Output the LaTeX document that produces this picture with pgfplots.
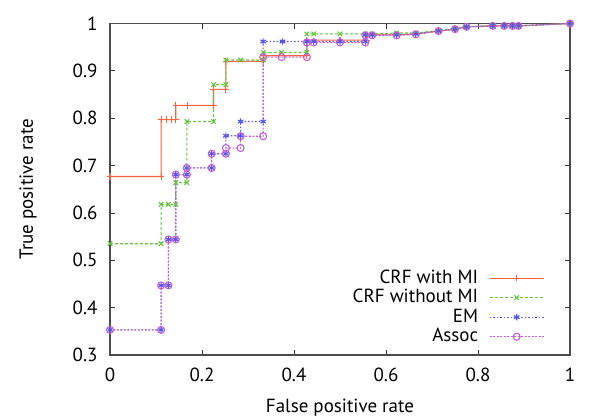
\documentclass[border=0pt]{standalone}
\usepackage{fontspec}
\setmainfont{PT Sans}
\usepackage{pgfplots}
\pgfplotsset{compat=1.18}
\usetikzlibrary{calc}
\definecolor{crfmi}{RGB}{245,100,65}
\definecolor{crfno}{RGB}{100,195,60}
\definecolor{em}{RGB}{85,85,230}
\definecolor{assoc}{RGB}{190,95,210}
\begin{document}
\fontsize{19bp}{22bp}\selectfont
\begin{tikzpicture}
\begin{axis}[
  scale only axis, width=460bp, height=331.5bp,
  xmin=0, xmax=1, ymin=0.3, ymax=1,
  xtick={0,0.2,0.4,0.6,0.8,1}, xticklabels={0,0.2,0.4,0.6,0.8,1},
  ytick={0.3,0.4,0.5,0.6,0.7,0.8,0.9,1}, yticklabels={0.3,0.4,0.5,0.6,0.7,0.8,0.9,1},
  tick align=inside, major tick length=5bp,
  tick style={black!80, line width=0.8bp},
  axis line style={black!70, line width=1.3bp},
  yticklabel style={xshift=-6bp},
  xticklabel style={yshift=-6bp},
  xlabel={False positive rate}, ylabel={True positive rate},
  every axis x label/.style={at={(axis description cs:0.5,-0.16)}, anchor=center},
  every axis y label/.style={at={(axis description cs:-0.178,0.5)}, anchor=center, rotate=90},
  legend plot pos=right, legend cell align=right,
  legend style={at={(axis description cs:0.951,0.02)}, anchor=south east, draw=none, fill=none,
    row sep=0.5bp, column sep=10bp, nodes={inner sep=1bp, text height=13.5bp, text depth=3.5bp}},
  legend image code/.code={\draw[mark repeat=2,mark phase=2,#1] plot coordinates {(0bp,0bp) (27bp,0bp) (54bp,0bp)};},
]
\addplot[color=crfmi, line width=1.1bp, mark=+, mark size=3.2bp, mark options={solid}] coordinates {
(0,0.677) (0.111,0.677) (0.111,0.797) (0.123,0.797) (0.133,0.797) (0.143,0.797)
(0.143,0.827) (0.168,0.827) (0.225,0.827) (0.225,0.861) (0.252,0.861) (0.252,0.920)
(0.333,0.920) (0.333,0.932) (0.428,0.932) (0.428,0.965) (0.5,0.965) (0.558,0.965)
(0.558,0.976) (0.57,0.976) (0.623,0.976) (0.665,0.978) (0.714,0.984) (0.75,0.988)
(0.775,0.993) (0.832,0.995) (0.857,0.995) (0.875,0.995) (0.888,0.995) (1,1)};
\addlegendentry{CRF with MI}
\addplot[color=crfno, line width=1.1bp, dash pattern=on 3bp off 2bp, mark=x, mark size=3.2bp, mark options={solid}] coordinates {
(0,0.535) (0.111,0.535) (0.111,0.618) (0.127,0.618) (0.143,0.618) (0.143,0.664)
(0.167,0.664) (0.167,0.793) (0.225,0.793) (0.225,0.871) (0.252,0.871) (0.252,0.923)
(0.284,0.923) (0.333,0.923) (0.333,0.939) (0.373,0.939) (0.428,0.939) (0.428,0.978)
(0.443,0.978) (0.5,0.978) (0.556,0.978) (0.57,0.978) (0.623,0.980) (0.665,0.980)
(0.714,0.985) (0.75,0.990) (0.775,0.993) (0.832,0.995) (0.857,0.995) (0.875,0.995)
(0.888,0.995) (1,1)};
\addlegendentry{CRF without MI}
\addplot[color=em, line width=1.1bp, dash pattern=on 1.5bp off 2bp, mark=asterisk, mark size=3.2bp, mark options={solid}] coordinates {
(0,0.353) (0.111,0.353) (0.111,0.447) (0.127,0.447) (0.127,0.544) (0.143,0.544)
(0.143,0.681) (0.167,0.681) (0.167,0.695) (0.221,0.695) (0.221,0.725) (0.252,0.725)
(0.252,0.763) (0.284,0.763) (0.284,0.793) (0.333,0.793) (0.333,0.962) (0.375,0.962)
(0.428,0.962) (0.443,0.962) (0.5,0.962) (0.555,0.962) (0.555,0.976) (0.57,0.976)
(0.623,0.976) (0.665,0.978) (0.714,0.984) (0.75,0.988) (0.775,0.993) (0.832,0.995)
(0.857,0.995) (0.875,0.995) (0.888,0.995) (1,1)};
\addlegendentry{EM}
\addplot[color=assoc, line width=1.1bp, dash pattern=on 2bp off 1.5bp, mark=o, mark size=3.5bp, mark options={solid}] coordinates {
(0,0.353) (0.111,0.353) (0.111,0.447) (0.127,0.447) (0.127,0.544) (0.143,0.544)
(0.143,0.681) (0.167,0.681) (0.167,0.695) (0.221,0.695) (0.221,0.725) (0.252,0.725)
(0.252,0.737) (0.284,0.737) (0.284,0.762) (0.333,0.762) (0.333,0.929) (0.373,0.929)
(0.428,0.929) (0.428,0.960) (0.443,0.960) (0.5,0.960) (0.555,0.960) (0.555,0.975)
(0.57,0.975) (0.623,0.975) (0.665,0.977) (0.714,0.984) (0.75,0.988) (0.775,0.993)
(0.832,0.995) (0.857,0.995) (0.875,0.995) (0.888,0.995) (1,1)};
\addlegendentry{Assoc}
\end{axis}
\pgfresetboundingbox
\path ($(current axis.south west)+(-110bp,-65bp)$) rectangle ($(current axis.north east)+(30bp,23.5bp)$);
\end{tikzpicture}
\end{document}
